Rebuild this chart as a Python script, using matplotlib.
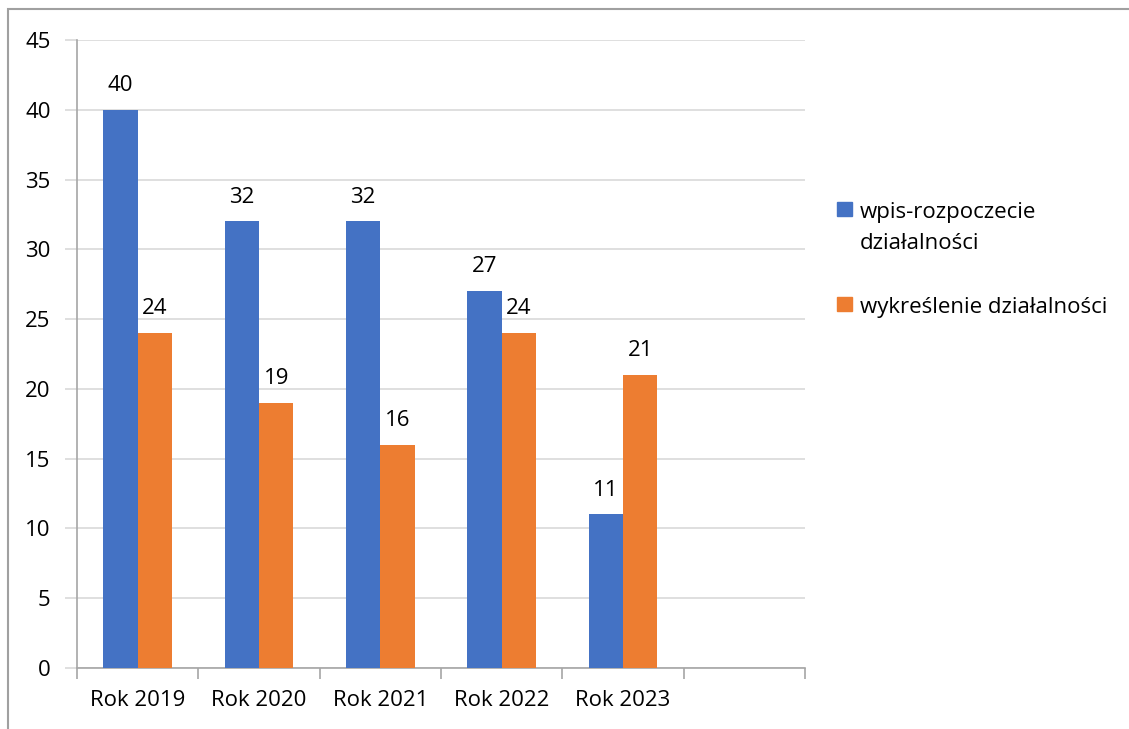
import numpy as np
import matplotlib.pyplot as plt
from matplotlib.patches import Rectangle

categories = ["Rok 2019", "Rok 2020", "Rok 2021", "Rok 2022", "Rok 2023", ""]
wpis = [40, 32, 32, 27, 11]
wykreslenie = [24, 19, 16, 24, 21]
series_names = ["wpis-rozpoczecie\ndziałalności", "wykreślenie działalności"]

BLUE = "#4472C4"
ORANGE = "#ED7D31"
GRID = "#d9d9d9"
AXIS = "#a6a6a6"
FS = 16

plt.rcParams['font.family'] = ['Open Sans', 'DejaVu Sans']

W, H = 1129, 729
fig = plt.figure(figsize=(W / 100, H / 100), dpi=100)
ax = fig.add_axes([77 / W, 1 - 668 / H, (805 - 77) / W, (668 - 40) / H])

x = np.arange(len(wpis))
w = 0.284
b1 = ax.bar(x - w / 2, wpis, width=w, color=BLUE, zorder=3)
b2 = ax.bar(x + w / 2, wykreslenie, width=w, color=ORANGE, zorder=3)
for bars in (b1, b2):
    ax.bar_label(bars, padding=10, fontsize=FS, color="#000000")

ax.set_xlim(-0.5, len(categories) - 0.5)
ax.set_ylim(0, 45)
ax.set_yticks(np.arange(0, 46, 5))
ax.yaxis.grid(True, color=GRID, linewidth=1.2, zorder=0)
ax.set_axisbelow(True)

# category boundaries as ticks, labels in the middle
ax.set_xticks(np.arange(-0.5, len(categories), 1.0))
ax.set_xticklabels([])
ax.set_xticks(np.arange(len(categories)), minor=True)
ax.set_xticklabels(categories, minor=True)
ax.tick_params(axis='x', which='major', length=8, color=AXIS, width=1.2)
ax.tick_params(axis='x', which='minor', length=0, pad=16, labelsize=FS)
ax.tick_params(axis='y', length=9, color=GRID, width=1.2, pad=10, labelsize=FS)

for s in ('top', 'right'):
    ax.spines[s].set_visible(False)
for s in ('left', 'bottom'):
    ax.spines[s].set_color(AXIS)
    ax.spines[s].set_linewidth(1.2)

# legend drawn by hand: square at the first line of each label
legend_rows = [(BLUE, series_names[0], 209), (ORANGE, series_names[1], 304)]
for color, name, yc in legend_rows:
    fig.patches.append(Rectangle((837 / W, 1 - (yc + 7) / H), 15 / W, 14 / H,
                                 transform=fig.transFigure, color=color))
    fig.text(860 / W, 1 - (yc - 7) / H, name, fontsize=FS, va='top', ha='left',
             linespacing=1.6)

fig.patches.append(Rectangle((8 / W, -0.1), 1.2, 1 - 9 / H + 0.1, transform=fig.transFigure,
                             fill=False, edgecolor="#a0a0a0", linewidth=1.5))

fig.savefig("out.png", dpi=100)
